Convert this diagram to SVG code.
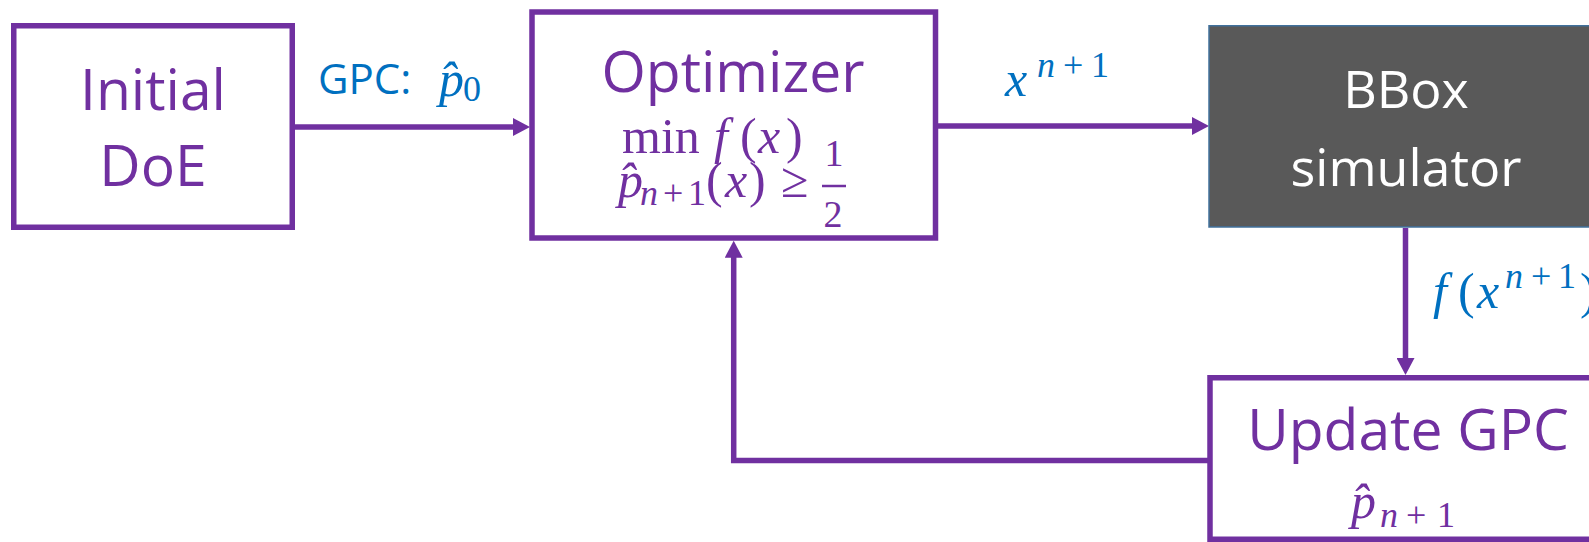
<svg xmlns="http://www.w3.org/2000/svg" width="1589" height="542" viewBox="0 0 1589 542">
<defs>
<marker id="ah" viewBox="0 0 17 18" refX="5" refY="9" markerWidth="17" markerHeight="18" markerUnits="userSpaceOnUse" orient="auto"><path d="M0,0 L17,9 L0,18 z" fill="#7030A0"/></marker>
<style>
.box{fill:#fff;stroke:#7030A0;stroke-width:5.5}
.dark{fill:#595959;stroke:#41719C;stroke-width:1.5}
.lbl{font-family:"Open Sans","Noto Sans",sans-serif;text-anchor:middle}
.p{fill:#7030A0}
.w{fill:#fff}
.b{fill:#0070C0}
.m{font-family:"Liberation Serif","DejaVu Serif",serif}
.i{font-style:italic}
.s{font-size:36px}
.conn{fill:none;stroke:#7030A0;stroke-width:5.5;stroke-linejoin:miter;marker-end:url(#ah)}
</style>
</defs>
<rect width="1589" height="542" fill="#fff"/>

<g id="connectors">
<path class="conn" d="M293,127 H518"/>
<path class="conn" d="M936,126 H1197"/>
<path class="conn" d="M1405.5,228 V363"/>
<path class="conn" d="M1210,460.5 H733.7 V252.7"/>
</g>

<g id="edge-labels">
<text class="b" x="318" y="94" font-family="Open Sans, Noto Sans, sans-serif" font-size="42">GPC:</text>
<text class="m b" font-size="50"><tspan class="i" x="439" y="96">p̂</tspan><tspan class="s" x="463" y="101">0</tspan></text>
<text class="m b" font-size="50"><tspan class="i" x="1005" y="96">x</tspan><tspan class="i s" x="1037" y="77">n</tspan><tspan class="s" x="1063" y="77">+</tspan><tspan class="s" x="1091" y="77">1</tspan></text>
<text class="m b" font-size="50"><tspan class="i" x="1433" y="308">f</tspan><tspan x="1458" y="308">(</tspan><tspan class="i" x="1477" y="308">x</tspan><tspan class="i s" x="1505" y="288">n</tspan><tspan class="s" x="1531" y="288">+</tspan><tspan class="s" x="1558" y="288">1</tspan><tspan x="1580" y="308">)</tspan></text>
</g>

<g id="node-initial">
<rect class="box" x="13.75" y="25.75" width="278.5" height="201.5"/>
<text class="lbl p" font-size="57"><tspan x="153" y="110">Initial</tspan><tspan x="153" y="186">DoE</tspan></text>
</g>

<g id="node-optimizer">
<rect class="box" x="532" y="12" width="403.5" height="226"/>
<text class="lbl p" font-size="57" x="733" y="92">Optimizer</text>
<text class="m p" font-size="50"><tspan x="622" y="153">min</tspan><tspan class="i" x="714" y="153">f</tspan><tspan x="740" y="153">(</tspan><tspan class="i" x="758" y="153">x</tspan><tspan x="786" y="153">)</tspan></text>
<text class="m p" font-size="50"><tspan class="i" x="618" y="197">p̂</tspan><tspan class="i s" x="640" y="205">n</tspan><tspan class="s" x="663" y="205">+</tspan><tspan class="s" x="688" y="205">1</tspan><tspan x="706" y="197">(</tspan><tspan class="i" x="725" y="197">x</tspan><tspan x="749" y="197">)</tspan><tspan x="781" y="197">≥</tspan></text>
<text class="m p" font-size="38" text-anchor="middle"><tspan x="834" y="166">1</tspan><tspan x="833" y="227">2</tspan></text>
<line x1="822" y1="186" x2="846" y2="186" stroke="#7030A0" stroke-width="2.5"/>
</g>

<g id="node-bbox">
<rect class="dark" x="1209" y="25.75" width="420" height="201.25"/>
<text class="lbl w" font-size="52"><tspan x="1406" y="108">BBox</tspan><tspan x="1406" y="186">simulator</tspan></text>
</g>

<g id="node-update">
<rect class="box" x="1210" y="377.75" width="420" height="161.5"/>
<text class="lbl p" font-size="57" x="1408" y="450">Update GPC</text>
<text class="m p" font-size="50"><tspan class="i" x="1351" y="518">p̂</tspan><tspan class="i s" x="1380" y="527">n</tspan><tspan class="s" x="1406" y="527">+</tspan><tspan class="s" x="1437" y="527">1</tspan></text>
</g>
</svg>
